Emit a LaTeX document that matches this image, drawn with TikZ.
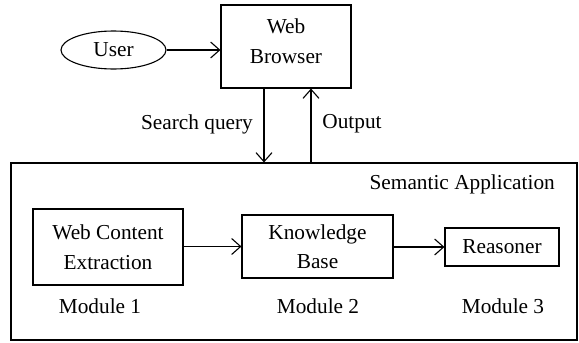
\documentclass[tikz,border=0pt]{standalone}
\usepackage{fontspec}
\setmainfont{Liberation Serif}
\usetikzlibrary{shapes.geometric,arrows.meta,calc}
\begin{document}
\begin{tikzpicture}[x=1pt,y=-1pt,
  every node/.style={font=\fontsize{21.3}{29.5}\selectfont, inner sep=0pt},
  box/.style={draw, line width=1.1pt, rectangle},
  lbl/.style={align=center},
  arr/.style={line width=1.1pt, -{Straight Barb[length=9pt,width=16pt,line width=1.1pt]}}]
\useasboundingbox (0,0) rectangle (579,343);
\node[draw, line width=1.1pt, ellipse, minimum width=105, minimum height=38] (user) at (113.5,50) {User};
\node[box, minimum width=130, minimum height=83] (browser) at (286,46.5) {};
\node[lbl] (browsertext) at (286,41) {Web\\Browser};
\node[box, minimum width=566, minimum height=177] (app) at (294,251.5) {};
\node[anchor=east] (apptitle) at (555,184) {Semantic Application};
\node[box, lbl, minimum width=150, minimum height=76] (wce) at (108,247) {Web Content\\Extraction};
\node[box, lbl, minimum width=151, minimum height=63] (kb) at (317.5,246.5) {Knowledge\\Base};
\node[box, lbl, minimum width=114, minimum height=38] (reas) at (502,247) {Reasoner};
\node (m1) at (100,306) {Module 1};
\node (m2) at (318,306) {Module 2};
\node (m3) at (503,306) {Module 3};
\node (sq) at (197,124) {Search query};
\node (out) at (352,124) {Output};
\draw[arr] (user.east) -- (browser.west |- user.east);
\draw[arr] ([xshift=-22pt]browser.south) -- ([xshift=-22pt]browser.south |- app.north);
\draw[arr] ([xshift=25pt]browser.south |- app.north) -- ([xshift=25pt]browser.south);
\draw[arr] (wce.east |- kb.west) -- (kb.west);
\draw[arr] (kb.east |- reas.west) -- (reas.west);
\end{tikzpicture}
\end{document}
